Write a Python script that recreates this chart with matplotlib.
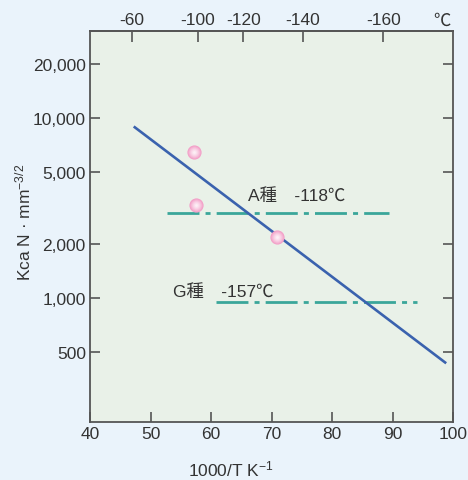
import numpy as np
import matplotlib
matplotlib.use('Agg')
import matplotlib.pyplot as plt
from matplotlib.ticker import FixedLocator, NullLocator, FixedFormatter
from matplotlib.colors import to_rgb

plt.rcParams['font.family'] = ['Liberation Sans', 'Noto Sans CJK JP', 'DejaVu Sans']
plt.rcParams['mathtext.default'] = 'regular'

# data
line_x = [47.4, 98.7]
line_y = [8900, 439]
pts_x = [57.2, 57.5, 70.9]
pts_y = [6500, 3290, 2180]
a_x = [52.8, 89.5]
a_y = [2990, 2990]
g_x = [60.8, 94.0]
g_y = [950, 950]
y_ticks = [500, 1000, 2000, 5000, 10000, 20000]
y_labels = ['500', '1,000', '2,000', '5,000', '10,000', '20,000']
x_ticks = [40, 50, 60, 70, 80, 90, 100]
top_celsius = [-60, -100, -120, -140, -160]

FIG_BG = '#EAF3FB'
AX_BG = '#E9F1E8'
SPINE = '#555555'
TXT = '#333333'
FS = 12.5

fig = plt.figure(figsize=(4.68, 4.81), dpi=100, facecolor=FIG_BG)
ax = fig.add_axes([90/468, 1-423/481, 363/468, 391/481])
ax.set_facecolor(AX_BG)
ax.set_yscale('log')
ax.set_xlim(40, 100)
ax.set_ylim(205, 30500)

ax.plot(line_x, line_y, color='#3A62AE', lw=1.9, zorder=3)
dash = (0, (11.5, 2.2, 1.8, 2.2))
ax.plot(a_x, a_y, color='#3AA69A', lw=2.0, linestyle=dash, zorder=2)
ax.plot(g_x, g_y, color='#3AA69A', lw=2.0, linestyle=dash, zorder=2)

# pink shaded spheres: stacked circles from edge colour to light centre
edge = np.array(to_rgb('#F29CC6'))
centre = np.array(to_rgb('#FDEEF5'))
n = 8
for i in range(n):
    t = i / (n - 1)
    size = 100 * (1 - t) ** 1.3 + 4
    col = edge * (1 - t) + centre * t
    ax.scatter(pts_x, pts_y, s=size, color=col, lw=0, zorder=4 + i * 0.01)

ax.text(66.1, 3720, 'A種　-118℃', fontsize=FS, color=TXT, ha='left', va='center')
ax.text(53.7, 1095, 'G種　-157℃', fontsize=FS, color=TXT, ha='left', va='center')

ax.yaxis.set_major_locator(FixedLocator(y_ticks))
ax.yaxis.set_major_formatter(FixedFormatter(y_labels))
ax.yaxis.set_minor_locator(NullLocator())
ax.set_xticks(x_ticks)
ax.tick_params(axis='both', which='major', direction='in', length=7, width=1.2,
               color=SPINE, labelsize=FS, labelcolor=TXT, pad=3)
ax.tick_params(axis='y', right=True)

for s in ax.spines.values():
    s.set_color(SPINE)
    s.set_linewidth(1.3)

top = ax.secondary_xaxis('top')
top.set_xticks([10000 / (273.0 + c) for c in top_celsius])
top.set_xticklabels([str(c) for c in top_celsius])
top.tick_params(direction='in', length=8, width=1.2, color=SPINE,
                labelsize=FS, labelcolor=TXT, pad=3)
top.spines['top'].set_color(SPINE)
top.spines['top'].set_linewidth(1.3)

fig.text(441.5/468, 1-21/481, '℃', fontsize=FS, color=TXT, ha='center', va='center')
fig.text(231/468, 1-469/481, '1000/T K$^{-1}$', fontsize=FS, color=TXT,
         ha='center', va='center')
fig.text(23/468, 1-222/481, 'Kca N · mm$^{-3/2}$', fontsize=FS, color=TXT,
         ha='center', va='center', rotation=90)

fig.savefig('out.png', dpi=100, facecolor=FIG_BG)
